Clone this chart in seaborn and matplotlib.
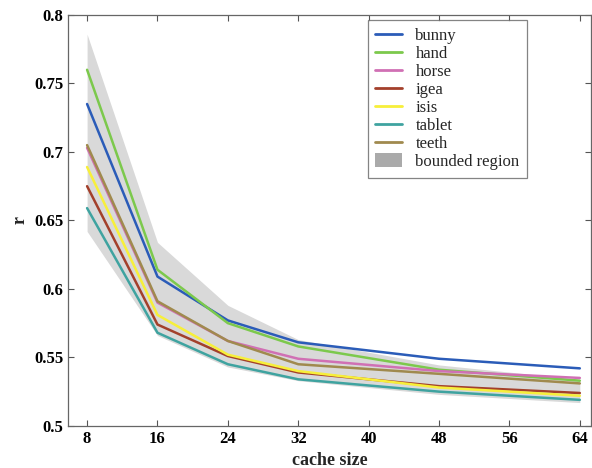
import pandas as pd
import seaborn as sns
import matplotlib.pyplot as plt
from matplotlib.patches import Patch
from matplotlib.lines import Line2D

# cache sizes and r values
cache = [8, 16, 24, 32, 48, 64]
bunny = [0.735, 0.609, 0.577, 0.561, 0.549, 0.542]
hand = [0.760, 0.614, 0.575, 0.558, 0.541, 0.533]
horse = [0.703, 0.590, 0.562, 0.549, 0.540, 0.535]
igea = [0.675, 0.574, 0.551, 0.539, 0.529, 0.524]
isis = [0.689, 0.581, 0.552, 0.540, 0.528, 0.522]
tablet = [0.659, 0.568, 0.545, 0.534, 0.525, 0.519]
teeth = [0.705, 0.591, 0.562, 0.545, 0.538, 0.531]
upper = [0.786, 0.634, 0.588, 0.563, 0.5445, 0.534]
lower = [0.642, 0.566, 0.543, 0.533, 0.523, 0.517]

names = ["bunny", "hand", "horse", "igea", "isis", "tablet", "teeth"]
series = [bunny, hand, horse, igea, isis, tablet, teeth]
colors = ["#2b5cb8", "#7cc94c", "#d070b4", "#a3402b", "#f7ef3a", "#3fa3a0", "#a08a4e"]

rows = []
for n, s in zip(names, series):
    for c, v in zip(cache, s):
        rows.append({"cache": c, "r": v, "model": n})
df = pd.DataFrame(rows)

sns.set_style("ticks")
plt.rcParams["font.family"] = ["Liberation Serif", "DejaVu Serif"]

fig = plt.figure(figsize=(5.92, 4.68), dpi=100)
ax = fig.add_axes([0.115, 0.09, 0.883, 0.878])

ax.fill_between(cache, lower, upper, color="#d9d9d9", lw=0, zorder=1)
sns.lineplot(data=df, x="cache", y="r", hue="model", hue_order=names,
             palette=colors, lw=1.8, ax=ax, legend=False, zorder=2)

ax.set_xlim(5.84, 65.25)
ax.set_ylim(0.5, 0.8)
ax.set_xticks(range(8, 65, 8))
ax.set_yticks([0.5, 0.55, 0.6, 0.65, 0.7, 0.75, 0.8])
ax.set_yticklabels(["0.5", "0.55", "0.6", "0.65", "0.7", "0.75", "0.8"])
ax.tick_params(direction="in", top=True, right=True, length=4, labelsize=12, colors="#555555")
for lab in ax.get_xticklabels() + ax.get_yticklabels():
    lab.set_fontweight("bold")
    lab.set_color("black")
for sp in ax.spines.values():
    sp.set_color("#666666")
    sp.set_linewidth(0.9)

ax.set_xlabel("cache size", fontsize=13, fontweight="bold")
ax.set_ylabel("r", fontsize=13, fontweight="bold")

handles = [Line2D([0], [0], color=c, lw=2) for c in colors]
handles.append(Patch(facecolor="#aaaaaa", edgecolor="none"))
leg = ax.legend(handles, names + ["bounded region"], loc="upper right",
                bbox_to_anchor=(0.878, 0.988), borderaxespad=0, fontsize=12,
                frameon=True, fancybox=False, handlelength=1.6, handleheight=0.9,
                handletextpad=0.8, labelspacing=0.08, borderpad=0.45)
leg.get_frame().set_edgecolor("#666666")
leg.get_frame().set_linewidth(0.9)

fig.savefig("out.png", dpi=100)
